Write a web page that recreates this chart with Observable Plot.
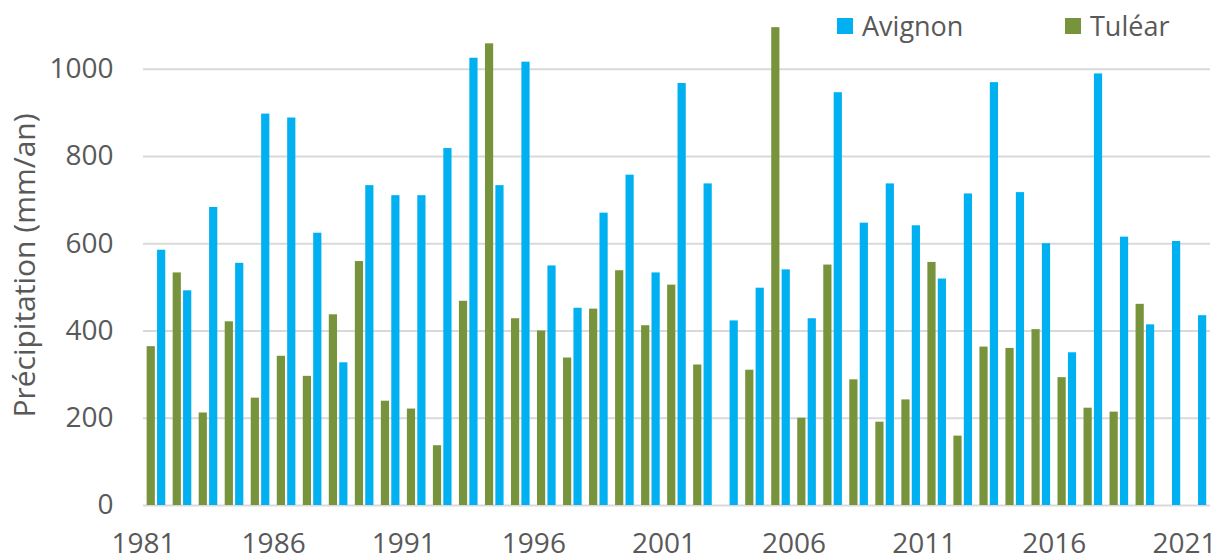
<!DOCTYPE html>
<html>
<head>
<meta charset="utf-8">
<script src="https://cdn.jsdelivr.net/npm/d3@7"></script>
<script src="https://cdn.jsdelivr.net/npm/@observablehq/plot@0.6"></script>
<style>
  html, body { margin: 0; padding: 0; background: #fff; }
  #wrap { position: relative; width: 1223px; height: 559px; font-family: "Open Sans", sans-serif; }
  .sw { position: absolute; width: 16px; height: 16px; }
  .lt { position: absolute; font-size: 27px; line-height: 1; color: #595959; white-space: nowrap; }
</style>
</head>
<body>
<div id="wrap">
  <div id="chart"></div>
  <div id="legend"></div>
</div>
<script>
const years = d3.range(1981, 2022);
const avignon = [585, 492, 683, 555, 897, 888, 624, 327, 733, 710,
                 710, 818, 1025, 733, 1016, 549, 452, 670, 757, 533,
                 967, 737, 423, 498, 540, 428, 946, 647, 737, 641,
                 519, 714, 969, 717, 600, 350, 989, 615, 414, 605,
                 435];
const tulear = [364, 533, 212, 421, 246, 342, 296, 437, 559, 239,
                221, 137, 468, 1058, 428, 400, 338, 450, 538, 412,
                505, 322, null, 310, 1095, 200, 551, 288, 191, 242,
                557, 159, 363, 360, 403, 293, 223, 214, 461, null,
                null];
const xTicks = [1981, 1986, 1991, 1996, 2001, 2006, 2011, 2016, 2021];
const yTicks = [0, 200, 400, 600, 800, 1000];
const seriesNames = ["Avignon", "Tuléar"];
const seriesColors = ["#00B0F0", "#77933C"];

const avData = years.map((y, i) => ({year: y, value: avignon[i]})).filter(d => d.value != null);
const tuData = years.map((y, i) => ({year: y, value: tulear[i]})).filter(d => d.value != null);

const chart = Plot.plot({
  width: 1223,
  height: 559,
  marginLeft: 143,
  marginRight: 13,
  marginTop: 25,
  marginBottom: 54,
  style: {fontFamily: "Open Sans, sans-serif", color: "#595959", background: "#fff", overflow: "visible"},
  x: {domain: [1981, 2022], axis: null},
  y: {domain: [0, 1100], axis: null},
  marks: [
    Plot.gridY(yTicks, {stroke: "#d9d9d9", strokeOpacity: 1, strokeWidth: 2}),
    Plot.rectY(tuData, {x1: d => d.year + 0.14, x2: d => d.year + 0.455, y1: 0, y2: "value", fill: seriesColors[1]}),
    Plot.rectY(avData, {x1: d => d.year + 0.54, x2: d => d.year + 0.855, y1: 0, y2: "value", fill: seriesColors[0]}),
    Plot.axisX({ticks: xTicks, tickSize: 0, tickPadding: 28, tickFormat: d => String(d), fontSize: 28, fill: "#595959", label: null}),
    Plot.axisY({ticks: yTicks, tickSize: 0, tickPadding: 30, tickFormat: d => String(d), fontSize: 28, fill: "#595959", label: null}),
    Plot.text(["Précipitation (mm/an)"], {frameAnchor: "left", rotate: -90, dx: -118, fontSize: 30, fill: "#595959", lineAnchor: "middle", textAnchor: "middle"})
  ]
});
document.getElementById("chart").appendChild(chart);

const legend = document.getElementById("legend");
const legendPos = [{sw: 837, tx: 862}, {sw: 1065, tx: 1090}];
seriesNames.forEach((name, i) => {
  const s = document.createElement("div");
  s.className = "sw";
  s.style.left = legendPos[i].sw + "px";
  s.style.top = "18px";
  s.style.background = seriesColors[i];
  legend.appendChild(s);
  const t = document.createElement("div");
  t.className = "lt";
  t.style.left = legendPos[i].tx + "px";
  t.style.top = "12px";
  t.textContent = name;
  legend.appendChild(t);
});
</script>
</body>
</html>
